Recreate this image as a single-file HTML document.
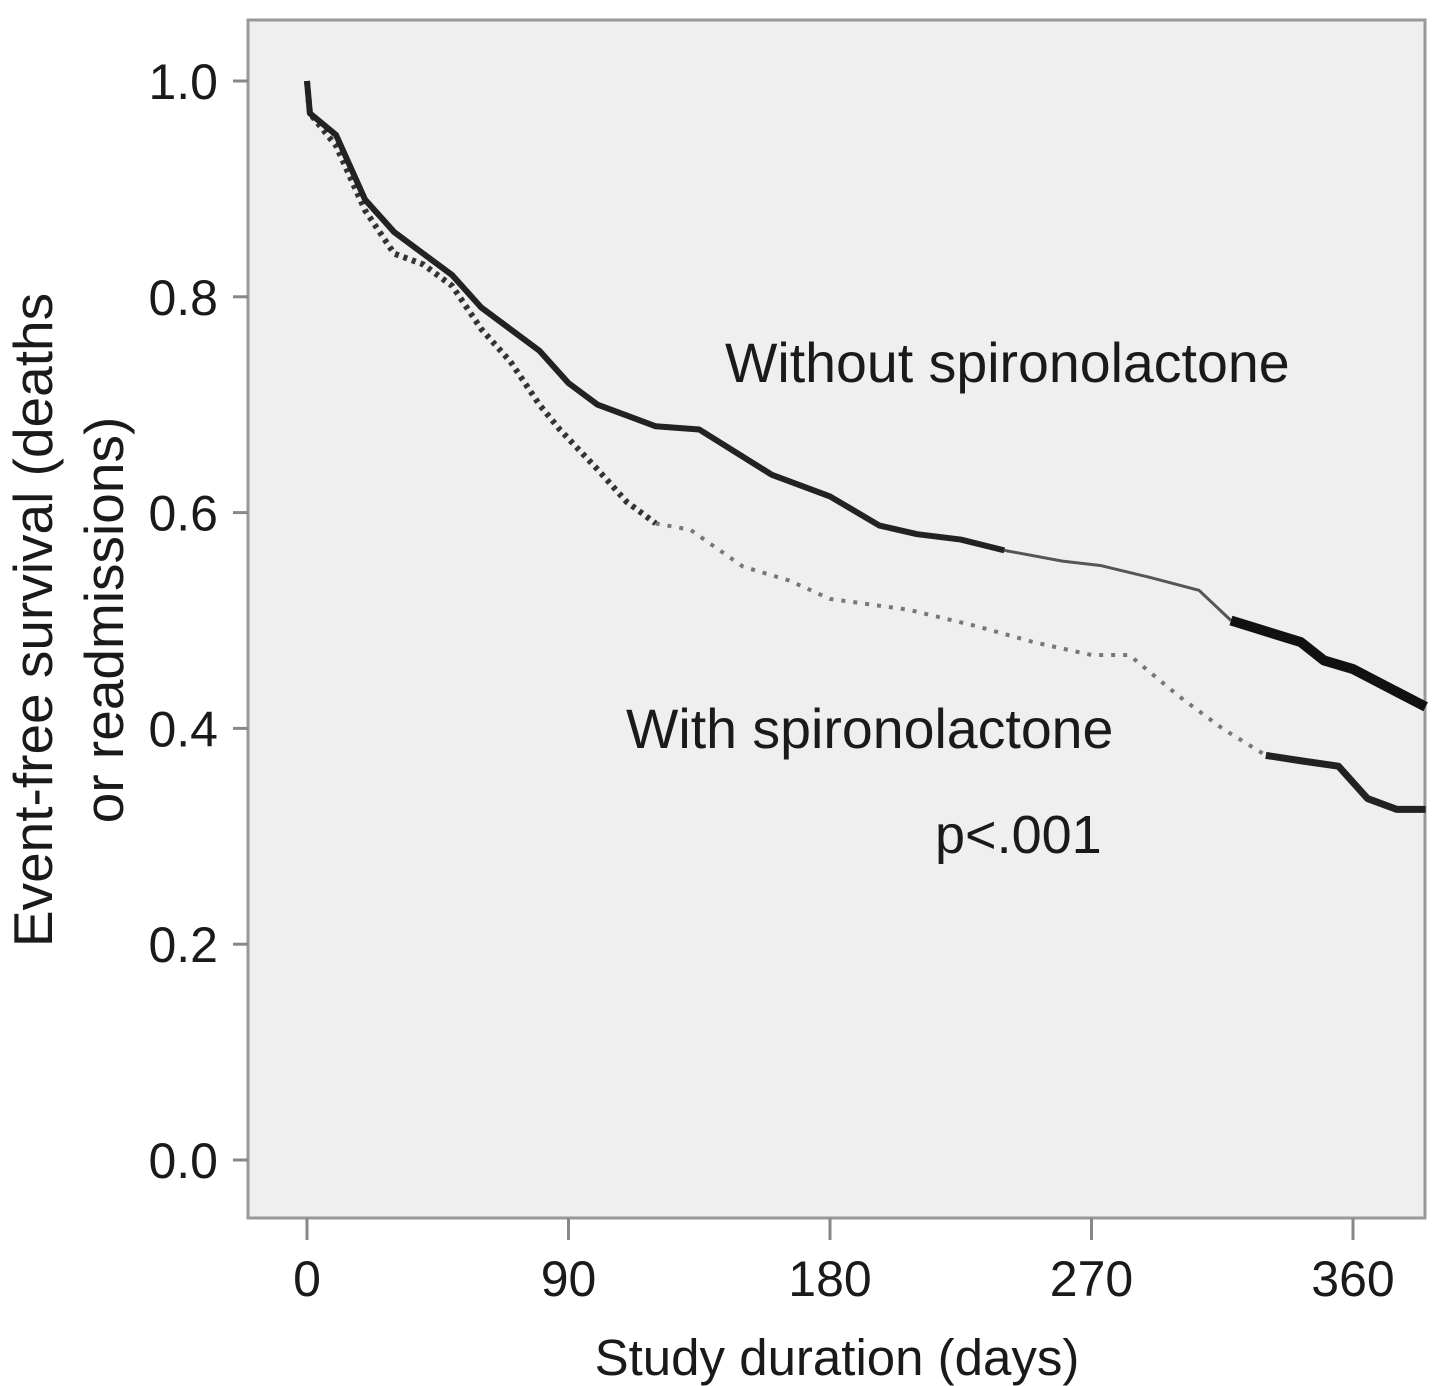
<!DOCTYPE html>
<html><head><meta charset="utf-8"><style>
html,body{margin:0;padding:0;background:#fff;width:1441px;height:1386px;overflow:hidden}
svg text{font-family:"Liberation Sans",sans-serif;fill:#1a1a1a}
</style></head><body>
<svg id="chart" width="1441" height="1386" viewBox="0 0 1441 1386">
<rect x="248" y="20" width="1177" height="1198" fill="#efefef" stroke="#999" stroke-width="3"/>
<g id="yticks"></g>
<g id="xticks"></g>
<g id="series"></g>
<text x="725" y="382" font-size="55.5">Without spironolactone</text>
<text x="626" y="748" font-size="55.5">With spironolactone</text>
<text x="935" y="853" font-size="54">p&lt;.001</text>
<text x="837" y="1375" font-size="51" text-anchor="middle">Study duration (days)</text>
<text transform="translate(52,620) rotate(-90)" font-size="55" text-anchor="middle">Event-free survival (deaths</text>
<text transform="translate(123,620) rotate(-90)" font-size="55" text-anchor="middle">or readmissions)</text>
</svg>
<script>
const yTicks=[0,0.2,0.4,0.6,0.8,1.0];
const yTickLabels=["0.0","0.2","0.4","0.6","0.8","1.0"];
const xTicks=[0,90,180,270,360];
const withoutDays=[0,1,10,20,30,40,50,60,70,80,90,100,110,120,135,160,180,197,210,225,240,260,273,290,307,318,330,342,350,360,385];
const withoutVals=[1.0,0.97,0.95,0.89,0.86,0.84,0.82,0.79,0.77,0.75,0.72,0.70,0.69,0.68,0.677,0.635,0.615,0.588,0.58,0.575,0.565,0.555,0.551,0.54,0.528,0.50,0.49,0.48,0.463,0.455,0.42];
const withDays=[0,1,10,20,30,40,50,60,70,80,87,100,110,120,132,150,166,180,207,230,250,270,283,300,315,330,342,355,365,375,385];
const withVals=[1.0,0.97,0.94,0.88,0.84,0.83,0.81,0.77,0.74,0.70,0.677,0.64,0.61,0.59,0.584,0.55,0.537,0.52,0.51,0.495,0.48,0.468,0.468,0.43,0.40,0.375,0.37,0.365,0.335,0.325,0.325];
const NS="http://www.w3.org/2000/svg";
function xs(d){return 307+d*(1353-307)/360;}
function ys(v){return 1160-v*(1160-81);}
const yg=document.getElementById('yticks'),xg=document.getElementById('xticks'),sg=document.getElementById('series');
yTicks.forEach((v,i)=>{
 const l=document.createElementNS(NS,'line');
 
 
 l.setAttribute('x1',233);l.setAttribute('x2',248);l.setAttribute('y1',ys(v));l.setAttribute('y2',ys(v));
 l.setAttribute('stroke','#888');l.setAttribute('stroke-width',3);yg.appendChild(l);
 const t=document.createElementNS(NS,'text');
 
 
 t.setAttribute('x',218);t.setAttribute('y',ys(v)+18);t.setAttribute('font-size',50);t.setAttribute('text-anchor','end');
 t.textContent=yTickLabels[i];yg.appendChild(t);
});
xTicks.forEach(d=>{
 const l=document.createElementNS(NS,'line');
 
 
 l.setAttribute('x1',xs(d));l.setAttribute('x2',xs(d));l.setAttribute('y1',1218);l.setAttribute('y2',1240);
 l.setAttribute('stroke','#888');l.setAttribute('stroke-width',3);xg.appendChild(l);
 const t=document.createElementNS(NS,'text');
 
 
 t.setAttribute('x',xs(d));t.setAttribute('y',1296);t.setAttribute('font-size',50);t.setAttribute('text-anchor','middle');
 t.textContent=String(d);xg.appendChild(t);
});
function linePath(ds,vs,from,to){
 let p='';
 for(let i=from;i<=to;i++){
  p+=(i===from?'M':'L')+xs(ds[i])+','+ys(vs[i]);
 }
 return p;
}
function addPath(d,stroke,w,dash,name){
 const p=document.createElementNS(NS,'path');
 
 
 p.setAttribute('d',d);p.setAttribute('fill','none');p.setAttribute('stroke',stroke);
 p.setAttribute('stroke-width',w);p.setAttribute('stroke-linejoin','round');
 if(dash)p.setAttribute('stroke-dasharray',dash);
 sg.appendChild(p);
}
const n1=withoutDays.length-1,n2=withDays.length-1;
const wSplit=withDays.indexOf(120);
addPath(linePath(withDays,withVals,wSplit,n2),'#777',4,'4 8','with-curve-dotted');
addPath(linePath(withDays,withVals,0,wSplit),'#333',6,'4 5','with-curve-early');
const oSplit=withoutDays.indexOf(240),oLate=withoutDays.indexOf(318);
addPath(linePath(withoutDays,withoutVals,0,oSplit),'#222',6,'','without-curve-early');
addPath(linePath(withoutDays,withoutVals,oSplit,oLate),'#555',3,'','without-curve-mid');
addPath(linePath(withoutDays,withoutVals,oLate,n1),'#111',10,'','without-curve-late');
addPath(linePath(withDays,withVals,withDays.indexOf(330),n2),'#222',7,'','with-curve-late');
</script>
</body></html>
